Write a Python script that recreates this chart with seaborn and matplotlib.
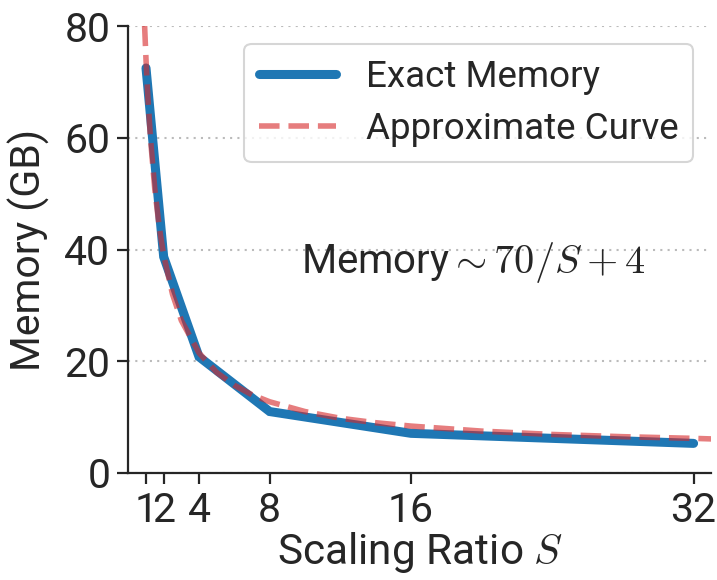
import matplotlib
matplotlib.use("Agg")
import matplotlib.pyplot as plt
import seaborn as sns
import pandas as pd

# Data
scaling_ratios = [1, 2, 4, 8, 16, 32]
exact_memory = [72.5, 38.7, 20.8, 11.0, 7.1, 5.3]

approx_ratios = [0.92, 1, 1.1, 1.25, 1.5, 1.75, 2, 2.5, 3, 4, 5, 6, 7, 8, 10,
                 12, 14, 16, 20, 24, 28, 32, 33]
approx_memory = [80.1, 74.0, 67.6, 60.0, 50.7, 44.0, 39.0, 32.0, 27.3, 21.5,
                 18.0, 15.7, 14.0, 12.75, 11.0, 9.8, 9.0, 8.4, 7.5, 6.9, 6.5,
                 6.2, 6.1]

x_ticks = [1, 2, 4, 8, 16, 32]
y_ticks = [0, 20, 40, 60, 80]

sns.set_theme(style="ticks")
plt.rcParams["font.family"] = ["Roboto", "DejaVu Sans"]
plt.rcParams["mathtext.fontset"] = "cm"

fig = plt.figure(figsize=(7.17, 5.80), dpi=100)
ax = fig.add_axes([0.179, 0.1845, 0.813, 0.7705])

exact_df = pd.DataFrame({"S": scaling_ratios, "mem": exact_memory})
approx_df = pd.DataFrame({"S": approx_ratios, "mem": approx_memory})

sns.lineplot(data=exact_df, x="S", y="mem", ax=ax, color="#1f77b4",
             linewidth=6.5, label="Exact Memory", solid_capstyle="round",
             solid_joinstyle="miter")
sns.lineplot(data=approx_df, x="S", y="mem", ax=ax, color="#d62728",
             alpha=0.6, linewidth=4, linestyle="--", label="Approximate Curve")

ax.set_xlim(0, 33)
ax.set_ylim(0, 80)
ax.set_xticks(x_ticks)
ax.set_xticklabels([str(t) for t in x_ticks])
ax.set_yticks(y_ticks)

ax.yaxis.grid(True, linestyle=(0, (1, 2.5)), color="#bbbbbb", linewidth=1.5)
ax.xaxis.grid(False)
ax.set_axisbelow(True)

for s in ["top", "right"]:
    ax.spines[s].set_visible(False)
for s in ["left", "bottom"]:
    ax.spines[s].set_linewidth(1.6)
    ax.spines[s].set_color("#262626")

ax.tick_params(axis="both", labelsize=29.5, length=8, width=1.6,
               colors="#262626", pad=5)

ax.set_xlabel("Scaling Ratio $S$", fontsize=30.5, color="#262626", labelpad=0)
ax.set_ylabel("Memory (GB)", fontsize=29.5, color="#262626", labelpad=10)

ax.text(19.5, 37.7, r"Memory$\sim 70/S + 4$", fontsize=29, color="#262626",
        ha="center", va="center")

leg = ax.legend(loc="upper right", fontsize=26.5, frameon=True, fancybox=True,
                handlelength=2.1, labelspacing=0.45, borderpad=0.4,
                handletextpad=0.8, borderaxespad=0,
                bbox_to_anchor=(0.969, 0.96))
leg.get_frame().set_edgecolor("#cccccc")
leg.get_frame().set_linewidth(1.5)

fig.savefig("out.png", dpi=100)
